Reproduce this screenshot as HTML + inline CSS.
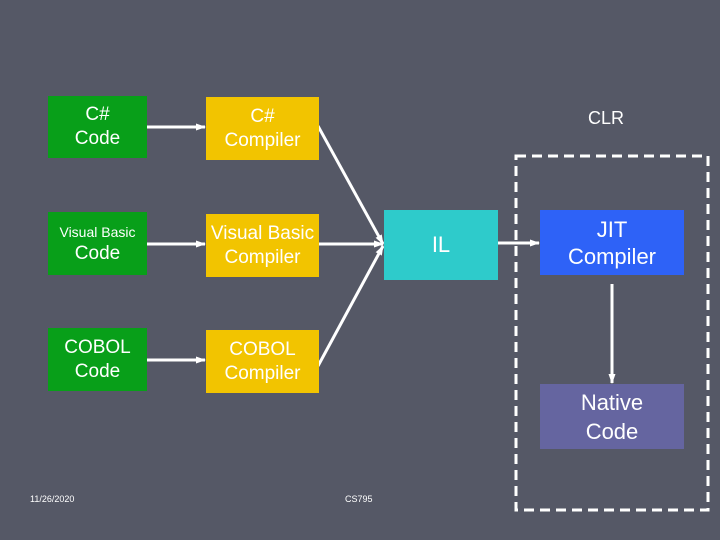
<!DOCTYPE html>
<html><head><style>
body{margin:0;width:720px;height:540px;background:#555866;overflow:hidden;position:relative;font-family:"Liberation Sans",sans-serif;}
.b{position:absolute;color:#fff;display:flex;align-items:center;justify-content:center;text-align:center;font-size:19px;line-height:24px;}
.g{background:#089f19;}
.y{background:#f2c400;}
</style></head><body>
<svg width="720" height="540" style="position:absolute;left:0;top:0">
<defs><marker id="a" markerWidth="10" markerHeight="10" refX="9" refY="5" orient="auto" markerUnits="userSpaceOnUse"><path d="M0,1.5 L10,5 L0,8.5z" fill="#fff"/></marker></defs>
<g stroke="#fff" stroke-width="3" fill="none">
<line x1="147" y1="127" x2="205" y2="127" marker-end="url(#a)"/>
<line x1="147" y1="244" x2="205" y2="244" marker-end="url(#a)"/>
<line x1="147" y1="360" x2="205" y2="360" marker-end="url(#a)"/>
<line x1="318" y1="126" x2="383" y2="244" marker-end="url(#a)"/>
<line x1="319" y1="244" x2="383" y2="244" marker-end="url(#a)"/>
<line x1="318" y1="366" x2="383" y2="246" marker-end="url(#a)"/>
<line x1="498" y1="243" x2="539" y2="243" marker-end="url(#a)"/>
<line x1="612" y1="284" x2="612" y2="383" marker-end="url(#a)"/>
<rect x="516" y="156" width="192" height="354" stroke-dasharray="10,6"/>
</g>
</svg>
<div class="b g" style="left:48px;top:96px;width:99px;height:62px">C#<br>Code</div>
<div class="b g" style="left:48px;top:212px;width:99px;height:63px;flex-direction:column"><span style="font-size:14px;line-height:20px">Visual Basic</span><span>Code</span></div>
<div class="b g" style="left:48px;top:328px;width:99px;height:63px">COBOL<br>Code</div>
<div class="b y" style="left:206px;top:97px;width:113px;height:63px">C#<br>Compiler</div>
<div class="b y" style="left:206px;top:214px;width:113px;height:63px">Visual Basic<br>Compiler</div>
<div class="b y" style="left:206px;top:330px;width:113px;height:63px">COBOL<br>Compiler</div>
<div class="b" style="left:384px;top:210px;width:114px;height:70px;background:#2ecbcb;font-size:22px">IL</div>
<div class="b" style="left:540px;top:210px;width:144px;height:65px;background:#2e62f7;font-size:22px;line-height:27px">JIT<br>Compiler</div>
<div class="b" style="left:540px;top:384px;width:144px;height:65px;background:#6565a0;font-size:22px;line-height:29px">Native<br>Code</div>
<div class="b" style="left:570px;top:106px;width:72px;height:24px;font-size:18px">CLR</div>
<div style="position:absolute;left:30px;top:494px;color:#fff;font-size:9px">11/26/2020</div>
<div style="position:absolute;left:345px;top:494px;color:#fff;font-size:9px">CS795</div>
</body></html>
